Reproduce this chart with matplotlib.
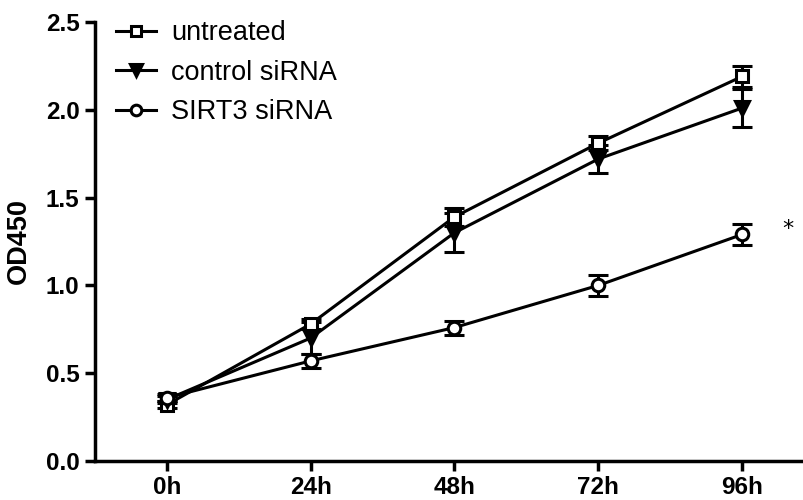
import numpy as np
import matplotlib.pyplot as plt

plt.rcParams['font.family'] = ['Liberation Sans', 'DejaVu Sans']

# Data
times = ['0h', '24h', '48h', '72h', '96h']
untreated = [0.32, 0.78, 1.39, 1.81, 2.19]
untreated_err = [0.02, 0.03, 0.05, 0.04, 0.06]
control = [0.35, 0.70, 1.30, 1.72, 2.01]
control_err = [0.02, 0.09, 0.11, 0.08, 0.11]
sirt3 = [0.36, 0.57, 0.76, 1.00, 1.29]
sirt3_err = [0.02, 0.04, 0.04, 0.06, 0.06]

x = np.arange(len(times))

fig = plt.figure(figsize=(8.04, 5.0), dpi=100)
ax = fig.add_axes([0.118, 0.078, 0.882, 0.878])

style = dict(color='black', lw=2.2, elinewidth=2.2, capsize=7, capthick=2.8,
             markeredgewidth=2.2, markeredgecolor='black')

c1 = ax.errorbar(x, untreated, yerr=untreated_err, marker='s', markersize=8.5,
                 markerfacecolor='white', label='untreated', **style)
c2 = ax.errorbar(x, control, yerr=control_err, marker='v', markersize=9.5,
                 markerfacecolor='black', label='control siRNA', **style)
c3 = ax.errorbar(x, sirt3, yerr=sirt3_err, marker='o', markersize=9,
                 markerfacecolor='white', label='SIRT3 siRNA', **style)

ax.text(4.32, 1.32, '*', fontsize=16, ha='center', va='center', family='DejaVu Sans')

ax.set_xlim(-0.5, 4.43)
ax.set_ylim(0, 2.5)
ax.set_xticks(x)
ax.set_xticklabels(times)
ax.set_yticks([0.0, 0.5, 1.0, 1.5, 2.0, 2.5])
ax.set_yticklabels(['0.0', '0.5', '1.0', '1.5', '2.0', '2.5'])
ax.set_ylabel('OD450', fontsize=19.5, fontweight='bold', labelpad=10)

for lab in ax.get_xticklabels() + ax.get_yticklabels():
    lab.set_fontweight('bold')
    lab.set_fontsize(17.5)

ax.spines['top'].set_visible(False)
ax.spines['right'].set_visible(False)
ax.spines['left'].set_linewidth(2.5)
ax.spines['bottom'].set_linewidth(2.5)
ax.tick_params(width=2.5, length=7, direction='out', pad=4)

ax.legend([c1[0], c2[0], c3[0]], ['untreated', 'control siRNA', 'SIRT3 siRNA'],
          loc='upper left', bbox_to_anchor=(-0.005, 1.06), frameon=False,
          fontsize=19.5, handlelength=1.5, handletextpad=0.55, labelspacing=0.5,
          markerscale=0.85)

fig.savefig('out.png', dpi=100)
